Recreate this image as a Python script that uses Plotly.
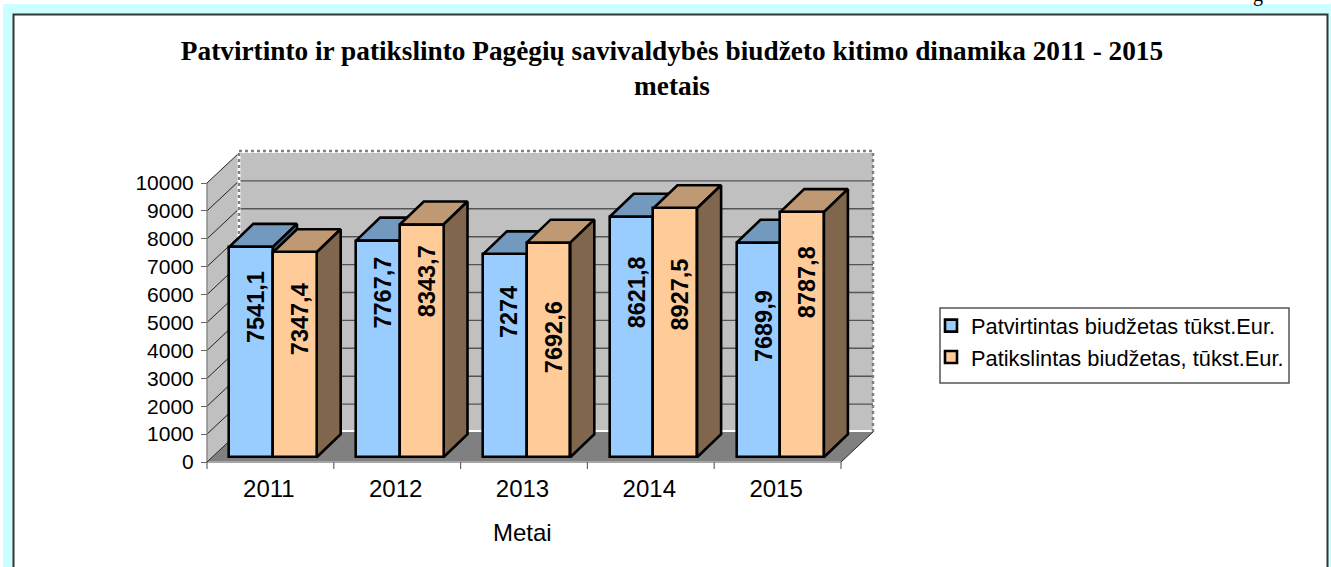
import plotly.graph_objects as go

years = ["2011", "2012", "2013", "2014", "2015"]
patvirtintas = [7541.1, 7767.7, 7274, 8621.8, 7689.9]
patikslintas = [7347.4, 8343.7, 7692.6, 8927.5, 8787.8]
ticks_y = [0, 1000, 2000, 3000, 4000, 5000, 6000, 7000, 8000, 9000, 10000]
series_names = ["Patvirtintas biudžetas tūkst.Eur.", "Patikslintas biudžetas, tūkst.Eur."]
title_text = "Patvirtinto ir patikslinto Pagėgių savivaldybės biudžeto kitimo dinamika 2011 - 2015<br>metais"

W, H = 1331, 567
X0, Y0 = 207, 462
CAT = 126.8
VAL = 0.0279
WALL_DX, WALL_DY = 32, 30
BAR_DX, BAR_DY = 24, 23
BAR_W = 43.7
BAR_LEFT = 22.3
BAR_BASE_PX = 4.7
# how far each value label sits below its bar top, in pixels
label_drop = [[60, 52, 58, 76, 83], [67, 57, 94, 86, 70]]

def ux(px):
    return px / CAT

def uy(px):
    return px / VAL

n = len(years)
xmax = n
wx, wy = ux(WALL_DX), uy(WALL_DY)
bx, by = ux(BAR_DX), uy(BAR_DY)
bw = ux(BAR_W)
base = uy(BAR_BASE_PX)
top = ticks_y[-1]

fig = go.Figure()

def poly(xs, ys, fill, line=None, lw=0, z=0):
    fig.add_trace(go.Scatter(x=xs, y=ys, mode="lines", fill="toself", fillcolor=fill,
                             line=dict(color=line or fill, width=lw), hoverinfo="skip",
                             showlegend=False, zorder=z))

def seg(xs, ys, color, lw=1, dash="solid", z=1):
    fig.add_trace(go.Scatter(x=xs, y=ys, mode="lines", line=dict(color=color, width=lw, dash=dash),
                             hoverinfo="skip", showlegend=False, zorder=z))

# walls and floor
poly([wx, xmax + wx, xmax + wx, wx, wx], [wy, wy, top + wy, top + wy, wy], "#C0C0C0", z=0)
poly([0, wx, wx, 0, 0], [0, wy, top + wy, top, 0], "#C0C0C0", z=0)
poly([0, xmax, xmax + wx, wx, 0], [0, 0, wy, wy, 0], "#808080", z=0)

# gridlines
for v in ticks_y[1:-1]:
    seg([wx, xmax + wx], [v + wy, v + wy], "#555555", 1.4)
for v in ticks_y[1:]:
    seg([0, wx], [v, v + wy], "#222222", 1)
seg([wx, xmax + wx], [wy + uy(1), wy + uy(1)], "#FFFFFF", 2)
seg([wx, wx], [wy, top + wy + uy(2)], "#FFFFFF", 3)
seg([wx, xmax + wx], [top + wy + uy(2)] * 2, "#FFFFFF", 2)
seg([wx, wx], [wy, top + wy + uy(2)], "#808080", 2.5, "dot")
seg([wx, xmax + wx, xmax + wx], [top + wy + uy(2), top + wy + uy(2), wy], "#808080", 2.5, "dot")
seg([0, 0], [0, top], "#808080", 1.3)
seg([0, xmax], [0, 0], "#A6A6A6", 2)
seg([xmax, xmax + wx], [0, wy], "#222222", 1)
seg([0, wx], [0, wy], "#222222", 1)

# x tick marks at category boundaries
tick_x, tick_y = [], []
for i in range(n + 1):
    tick_x += [i, i, None]
    tick_y += [0, -uy(7), None]
seg(tick_x, tick_y, "#666666", 1.2)

palette = [
    dict(front="#99CCFF", topc="#7399BF", side="#4D6680"),
    dict(front="#FFCC99", topc="#BF9973", side="#80664D"),
]
annotations = []
for s, (vals, pal, name) in enumerate(zip([patvirtintas, patikslintas], palette, series_names)):
    z0 = 2 + 2 * s
    lefts = [i + ux(BAR_LEFT) + s * bw for i in range(n)]
    for x, v in zip(lefts, vals):
        t = base + v
        poly([x, x + bw, x + bw + bx, x + bx, x], [t, t, t + by, t + by, t], pal["topc"], "#000000", 2.6, z0)
        poly([x + bw, x + bw + bx, x + bw + bx, x + bw, x + bw], [base, base + by, t + by, t, base], pal["side"], "#000000", 2.6, z0)
    fig.add_trace(go.Bar(x=[x + bw / 2 for x in lefts], y=vals, base=base, width=bw, name=name, legendgroup=name,
                         marker=dict(color=pal["front"], line=dict(color="#000000", width=2.6)),
                         hoverinfo="skip", zorder=z0 + 1))
    for x, v, drop in zip(lefts, vals, label_drop[s]):
        annotations.append(dict(x=x + bw / 2, y=base + v, xref="x", yref="y", text=f"{v:g}".replace(".", ","),
                                textangle=-90, showarrow=False, xshift=5, yshift=-drop,
                                font=dict(family="Liberation Sans", size=23.5, color="#000000", weight="bold")))

annotations.append(dict(x=(522 - X0) / CAT, y=-uy(532 - Y0), xref="x", yref="y", text="Metai", showarrow=False,
                        font=dict(family="Liberation Sans", size=24, color="#000000")))
annotations.append(dict(x=1258 / W, y=1, xref="paper", yref="paper", xanchor="center", yanchor="bottom", yshift=-8, text="g", showarrow=False,
                        font=dict(family="Liberation Serif", size=20, color="#000000")))

shapes = [
    dict(type="rect", xref="paper", yref="paper", x0=3 / W, x1=1.01, y0=-0.01, y1=1 - 4 / H,
         fillcolor="#CCFFFF", line=dict(width=0), layer="below"),
    dict(type="rect", xref="paper", yref="paper", x0=13.5 / W, x1=1327.5 / W, y0=-0.02, y1=1 - 14.5 / H,
         fillcolor="#FFFFFF", line=dict(color="#333333", width=2), layer="below"),
    dict(type="rect", xref="paper", yref="paper", x0=940 / W, x1=1289 / W, y0=1 - 383 / H, y1=1 - 308 / H,
         fillcolor="#FFFFFF", line=dict(color="#555555", width=1.5), layer="below"),
]

fig.update_layout(
    width=W, height=H, margin=dict(l=0, r=0, t=0, b=0, pad=0), autosize=False,
    paper_bgcolor="#FFFFFF", plot_bgcolor="rgba(0,0,0,0)", barmode="overlay", bargap=0,
    font=dict(family="Liberation Sans", color="#000000"),
    title=dict(text=title_text, x=672 / W, xanchor="center", y=1 - 60 / H, yanchor="top",
               font=dict(family="Liberation Serif", size=27.3, color="#000000", weight="bold")),
    xaxis=dict(range=[-X0 / CAT, (W - X0) / CAT], domain=[0, 1], anchor="free", position=1 - Y0 / H,
               tickmode="array", tickvals=[i + 0.5 - 0.012 for i in range(n)], ticktext=years, ticks="", showgrid=False,
               zeroline=False, showline=False, ticklabelstandoff=10, tickfont=dict(size=24)),
    yaxis=dict(range=[-(H - Y0) / VAL, Y0 / VAL], domain=[0, 1], anchor="free", position=X0 / W,
               tickmode="array", tickvals=ticks_y, tickformat="d", ticks="outside", ticklen=6, tickcolor="#666666", showgrid=False,
               zeroline=False, showline=False, ticklabelstandoff=3, tickfont=dict(size=21)),
    legend=dict(x=931 / W, y=1 - 305 / H, xanchor="left", yanchor="top", bgcolor="rgba(0,0,0,0)",
                borderwidth=0, font=dict(family="Liberation Sans", size=21.8),
                traceorder="normal", itemsizing="trace", tracegroupgap=38),
    annotations=annotations, shapes=shapes,
)

fig.write_html("out.html", config={"displayModeBar": False},
               post_script="document.body.style.margin='0';document.documentElement.style.overflow='hidden';")
